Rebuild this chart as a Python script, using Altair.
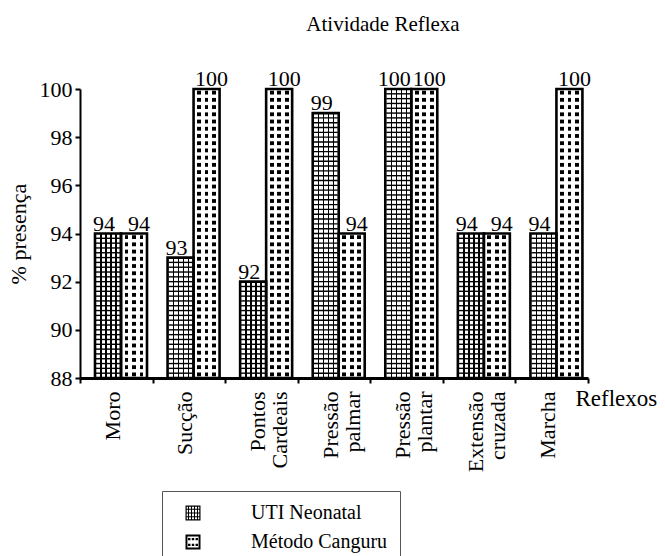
import altair as alt
import pandas as pd

# ---- data -------------------------------------------------------------
reflexos = ["Moro", "Sucção", "Pontos Cardeais", "Pressão palmar",
            "Pressão plantar", "Extensão cruzada", "Marcha"]
uti_neonatal = [94, 93, 92, 99, 100, 94, 94]
metodo_canguru = [94, 100, 100, 94, 100, 94, 100]
grupos = ["UTI Neonatal", "Método Canguru"]
y_ticks = [88, 90, 92, 94, 96, 98, 100]

FONT = "Liberation Serif"
BASE = 88
W, H = 508, 289
BAR_W = 26

GRID_STEP = 0.2   # spacing of the horizontal lines in the hatched bars
LINE_PX = 1.4     # line width of the hatching
DOT_STEP = 0.3    # spacing of the dot rows in the dotted bars
DOT_PX = 3.8      # dot diameter in the dotted bars
PX_PER_UNIT = H / (100 - BASE)

bars = pd.DataFrame({
    "reflexo": reflexos * 2,
    "grupo": [grupos[0]] * len(reflexos) + [grupos[1]] * len(reflexos),
    "valor": uti_neonatal + metodo_canguru,
})
bars["base"] = BASE

grid_rows = []
for r, v in zip(reflexos, uti_neonatal):
    n = round((v - BASE) / GRID_STEP)
    for k in range(1, n):
        grid_rows.append({"reflexo": r, "grupo": grupos[0], "y": v - k * GRID_STEP})
grid_rows = pd.DataFrame(grid_rows)

dot_masks = []
for r, v in zip(reflexos, metodo_canguru):
    n = round((v - BASE) / DOT_STEP)
    for k in range(0, n + 1):
        dot_masks.append({"reflexo": r, "grupo": grupos[1], "y": v - k * DOT_STEP})
dot_masks = pd.DataFrame(dot_masks)


# ---- fills ------------------------------------------------------------
def stripes(bands, width):
    stops = [{"offset": 0, "color": "white"}]
    for a, b in bands:
        stops += [
            {"offset": a / width, "color": "white"},
            {"offset": a / width, "color": "black"},
            {"offset": b / width, "color": "black"},
            {"offset": b / width, "color": "white"},
        ]
    stops.append({"offset": 1, "color": "white"})
    return {"gradient": "linear", "x1": 0, "y1": 0, "x2": 1, "y2": 0, "stops": stops}


grid_fill = stripes([(c - LINE_PX / 2, c + LINE_PX / 2) for c in (6, 11, 16, 21)], BAR_W)
dot_fill = stripes([(c - DOT_PX / 2, c + DOT_PX / 2) for c in (5.5, 13.0, 20.5)], BAR_W)


def rect(x0, y0, x1, y1):
    return f"M{x0:.3f},{y0:.3f}H{x1:.3f}V{y1:.3f}H{x0:.3f}Z"


def frame(t):
    return (rect(-1, -1, 1, -1 + t) + rect(-1, 1 - t, 1, 1)
            + rect(-1, -1, -1 + t, 1) + rect(1 - t, -1, 1, 1))


grid_symbol = frame(0.16)
for p in [-0.6, -0.2, 0.2, 0.6]:
    grid_symbol += rect(p - 0.07, -1, p + 0.07, 1)
for p in [-0.5, 0.0, 0.5]:
    grid_symbol += rect(-1, p - 0.07, 1, p + 0.07)

dot_symbol = frame(0.26)
for cx in [-0.5, 0.0, 0.5]:
    for cy in [-0.38, 0.38]:
        dot_symbol += rect(cx - 0.16, cy - 0.16, cx + 0.16, cy + 0.16)


# ---- shared encodings -------------------------------------------------
x_enc = alt.X(
    "reflexo:N",
    sort=reflexos,
    scale=alt.Scale(domain=reflexos, paddingInner=0, paddingOuter=0),
    axis=alt.Axis(
        title="Reflexos",
        titleFont=FONT, titleFontSize=23, titleFontWeight="normal", titleColor="black",
        titleX=495, titleY=27, titleAlign="left", titleBaseline="alphabetic", titleAngle=0,
        labelFont=FONT, labelFontSize=22, labelColor="black",
        labelAngle=270, labelAlign="right", labelBaseline="middle",
        labelLineHeight=22, labelPadding=8, labelOverlap=False, labelLimit=300,
        labelOffset=-4,
        labelExpr="split(datum.label, ' ')",
        tickBand="extent", tickSize=5, tickWidth=2, tickColor="black",
        domainWidth=3, domainColor="black", zindex=1,
    ),
)
xo_enc = alt.XOffset(
    "grupo:N",
    sort=grupos,
    scale=alt.Scale(domain=grupos, range=[15, 15 + 2 * BAR_W], paddingInner=0, paddingOuter=0),
)
y_scale = alt.Scale(domain=[BASE, 100], zero=False, nice=False)
y_axis = alt.Axis(
    values=y_ticks, title="% presença",
    titleFont=FONT, titleFontSize=22, titleFontWeight="normal", titleColor="black",
    titleX=-62, titleY=H / 2, titleAngle=270, titleAlign="center", titleBaseline="middle",
    labelFont=FONT, labelFontSize=22, labelColor="black", labelPadding=3,
    tickSize=5, tickWidth=2, tickColor="black",
    domainWidth=2, domainColor="black", zindex=1,
)


def y_enc(field):
    return alt.Y(f"{field}:Q", scale=y_scale, axis=y_axis)


# ---- layers -----------------------------------------------------------
uti_bars = alt.Chart(bars).transform_filter(
    alt.datum.grupo == grupos[0]
).mark_bar(fill=grid_fill, strokeWidth=0).encode(
    x=x_enc, xOffset=xo_enc, y=y_enc("valor"), y2="base:Q"
)

canguru_bars = alt.Chart(bars).transform_filter(
    alt.datum.grupo == grupos[1]
).mark_bar(fill=dot_fill, strokeWidth=0).encode(
    x=x_enc, xOffset=xo_enc, y=y_enc("valor"), y2="base:Q"
)

uti_lines = alt.Chart(grid_rows).mark_tick(
    color="black", thickness=LINE_PX, size=BAR_W - 2, opacity=1
).encode(x=x_enc, xOffset=xo_enc, y=y_enc("y"))

canguru_gaps = alt.Chart(dot_masks).mark_tick(
    color="white", thickness=DOT_STEP * PX_PER_UNIT - DOT_PX, size=BAR_W - 2, opacity=1
).encode(x=x_enc, xOffset=xo_enc, y=y_enc("y"))

outlines = alt.Chart(bars).mark_bar(
    fillOpacity=0, stroke="black", strokeWidth=2.6
).encode(x=x_enc, xOffset=xo_enc, y=y_enc("valor"), y2="base:Q")


def value_labels(grupo, shift):
    return alt.Chart(bars).transform_filter(
        alt.datum.grupo == grupo
    ).mark_text(
        font=FONT, fontSize=22, color="black", baseline="alphabetic", dy=-3, dx=shift
    ).encode(x=x_enc, xOffset=xo_enc, y=y_enc("valor"),
             text=alt.Text("valor:Q", format="d"))


labels_uti = value_labels(grupos[0], -4)
labels_canguru = value_labels(grupos[1], 5)

legend_keys = alt.Chart(bars).mark_point(
    filled=True, color="black", opacity=0
).encode(
    x=x_enc, xOffset=xo_enc, y=y_enc("valor"),
    shape=alt.Shape(
        "grupo:N",
        sort=grupos,
        scale=alt.Scale(domain=grupos, range=[grid_symbol, dot_symbol]),
        legend=alt.Legend(
            title=None, orient="none", legendX=82, legendY=402,
            strokeColor="#555555", fillColor="white", padding=12,
            symbolSize=225, symbolFillColor="black", symbolStrokeWidth=0,
            symbolOpacity=1, symbolOffset=9,
            labelFont=FONT, labelFontSize=20, labelColor="black",
            labelOffset=48, rowPadding=9,
        ),
    ),
)

chart = alt.layer(
    uti_bars, canguru_bars, uti_lines, canguru_gaps, outlines,
    labels_uti, labels_canguru, legend_keys
).properties(
    width=W, height=H,
    autosize=alt.AutoSizeParams(type="none"),
    padding={"left": 80, "top": 89, "right": 77, "bottom": 178},
    title=alt.TitleParams(
        "Atividade Reflexa", font=FONT, fontSize=21, fontWeight="normal", color="black",
        anchor="middle", frame="group", dx=49, offset=16, baseline="alphabetic",
    ),
).configure_view(stroke=None).configure_axis(grid=False)

chart.save("out.html", embed_options={"renderer": "svg", "actions": False})
